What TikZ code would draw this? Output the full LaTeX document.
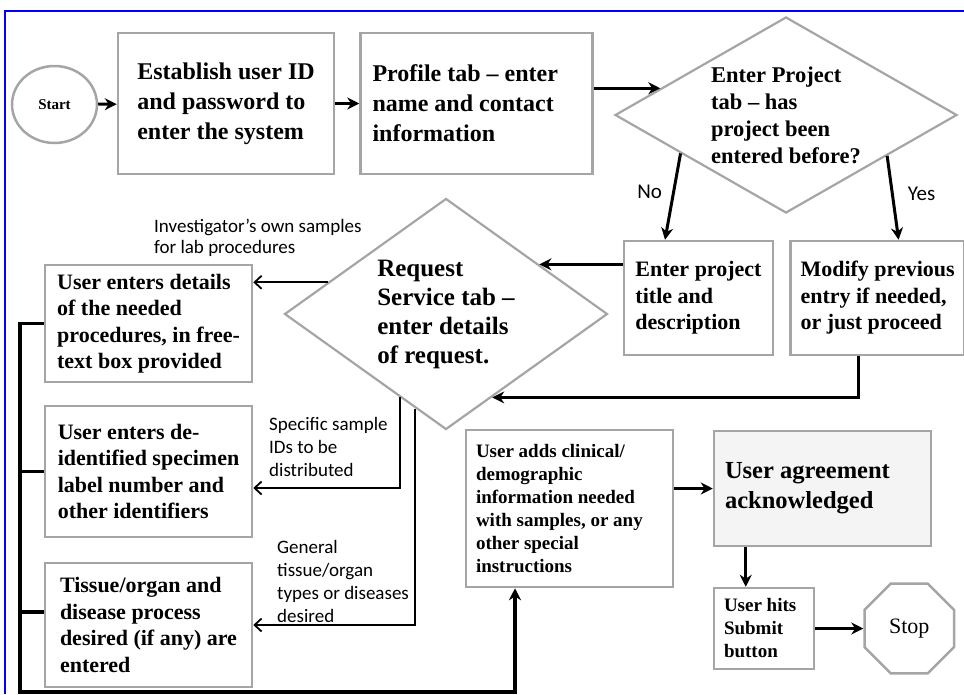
\documentclass[tikz,border=0pt]{standalone}
\usepackage{fontspec}
\setmainfont{Liberation Serif}
\newfontfamily\notefont{Carlito}
\usepackage{tikz}
\usetikzlibrary{arrows.meta,positioning,shapes.geometric,calc}

\definecolor{boxgrey}{RGB}{165,165,165}
\definecolor{frameblue}{RGB}{0,0,255}
\definecolor{agreefill}{RGB}{244,244,244}

\begin{document}
\begin{tikzpicture}[x=1pt, y=-1pt,
    >={Stealth[length=12pt,width=12pt]},
    every node/.append style={align=flush left},
    box/.style={draw=boxgrey, line width=2.5pt, fill=white, inner xsep=10pt, inner ysep=3pt},
    dec/.style={draw=boxgrey, line width=2.2pt, diamond, inner sep=0pt},
    big/.style={font=\bfseries\fontsize{24}{30}\selectfont},
    mid/.style={font=\bfseries\fontsize{22}{26.5}\selectfont},
    small/.style={font=\bfseries\fontsize{19}{23}\selectfont},
    arr/.style={->, line width=3pt},
    thinarr/.style={-{Straight Barb[length=7pt,width=13pt]}, line width=1.8pt},
    bar/.style={line width=3.5pt},
    lbl/.style={font=\notefont\fontsize{19}{23}\selectfont, inner sep=0pt},
    yesno/.style={font=\notefont\fontsize{21}{25}\selectfont, inner sep=0pt}]
  \useasboundingbox (0,0) rectangle (964,694);
  \draw[frameblue, line width=2.5pt] (5,694) -- (5,11) -- (964,11);

  % top row
  \node[ellipse, draw=boxgrey, line width=2.5pt, minimum width=85pt, minimum height=77pt,
        font=\bfseries\fontsize{15}{18}\selectfont] (start) at (54.5,104.5) {Start};
  \node[box, big, minimum width=216pt, minimum height=141pt] (est) at (226,103.5)
        {Establish user ID\\and password to\\enter the system};
  \node[box, big, right=24pt of est, minimum width=232pt, minimum height=141pt,
        text width=208pt, inner xsep=12pt] (prof)
        {Profile tab – enter\\name and contact\\information};
  \node[dec, shape aspect=1.745, minimum width=342pt, minimum height=196pt,
        font=\bfseries\fontsize{22.5}{27}\selectfont] (proj) at (786,115)
        {Enter Project\\tab – has\\project been\\entered before?};

  % project answers
  \node[box, mid, minimum width=149pt, minimum height=114pt] (title) at (698.5,298)
        {Enter project\\title and\\description};
  \node[box, mid, right=15pt of title, minimum width=174pt, minimum height=114pt] (mod)
        {Modify previous\\entry if needed,\\or just proceed};

  % request
  \node[dec, shape aspect=1.4, minimum width=323pt, minimum height=231pt,
        font=\bfseries\fontsize{25}{29}\selectfont] (req) at (446,314)
        {Request\\Service tab –\\enter details\\of request.};
  \node[box, mid, minimum width=207pt, minimum height=117pt] (A) at (148.5,323.5)
        {User enters details\\of the needed\\procedures, in free-\\text box provided};
  \node[box, mid, minimum width=207pt, minimum height=131pt] (B) at (148.5,471.5)
        {User enters de-\\identified specimen\\label number and\\other identifiers};
  \node[box, mid, minimum width=207pt, minimum height=124pt] (C) at (148.5,625)
        {Tissue/organ and\\disease process\\desired (if any) are\\entered};
  \node[box, small, minimum width=207pt, minimum height=157pt, text width=187pt] (D) at (569.5,508.5)
        {User adds clinical/\\demographic\\information needed\\with samples, or any\\other special\\instructions};
  \node[box, font=\bfseries\fontsize{24.5}{30}\selectfont, fill=agreefill, minimum width=217pt,
        minimum height=115pt, text width=195pt, inner xsep=11pt] (E) at (822.5,488.5)
        {User agreement\\acknowledged};
  \node[box, small, minimum width=100pt, minimum height=81pt, text width=80pt] (sub) at (764,628.5)
        {User hits\\Submit\\button};
  \node[regular polygon, regular polygon sides=8, draw=boxgrey, line width=2.5pt,
        minimum size=97pt, inner sep=0pt, font=\fontsize{22}{26}\selectfont,
        right=48pt of sub] (stop) {Stop};

  % notes
  \node[lbl, anchor=west, font=\notefont\fontsize{19}{21}\selectfont] (own) at (154,238)
        {Investigator’s own samples\\for lab procedures};
  \node[lbl, anchor=west] (spec) at (269,447) {Specific sample\\IDs to be\\distributed};
  \node[lbl, anchor=west] (gen) at (277,581) {General\\tissue/organ\\types or diseases\\desired};

  \coordinate (corner) at (20,692);

  % connectors
  \draw[arr] (start) -- (est);
  \draw[arr] (est) -- (prof);
  \draw[arr] (prof.east |- proj.168) -- (proj.168);
  \draw[arr] (proj.200) -- node[yesno, left=10pt, pos=.45] (no) {No} ([xshift=-33.5pt]title.north);
  \draw[arr] (proj.338) -- node[yesno, right=14pt, pos=.45] (yes) {Yes} ([xshift=21pt]mod.north);
  \draw[arr] (title.west |- req.28) -- (req.28);
  \draw[arr] ([xshift=-19pt]mod.south) |- (req.-61);
  \draw[thinarr] (req.165) -- (req.165 -| A.east);
  \draw[thinarr] (req.241) |- ([yshift=-16.5pt]B.east);
  \draw[thinarr] (req.252) |- (C.east);
  \draw[arr, bar] (A.west) -| (corner) -| ([xshift=-54.5pt]D.south);
  \draw[bar] (B.west) -- (B.west -| corner);
  \draw[bar] ($(C.west)+(0,-13)$) -- ($(C.west -| corner)+(0,-13)$);
  \draw[arr] (D.east |- E.west) -- (E.west);
  \draw[arr] ([xshift=33pt]E.south west) -- ([xshift=33pt]sub.north west);
  \draw[arr] (sub) -- (stop);
\end{tikzpicture}
\end{document}
